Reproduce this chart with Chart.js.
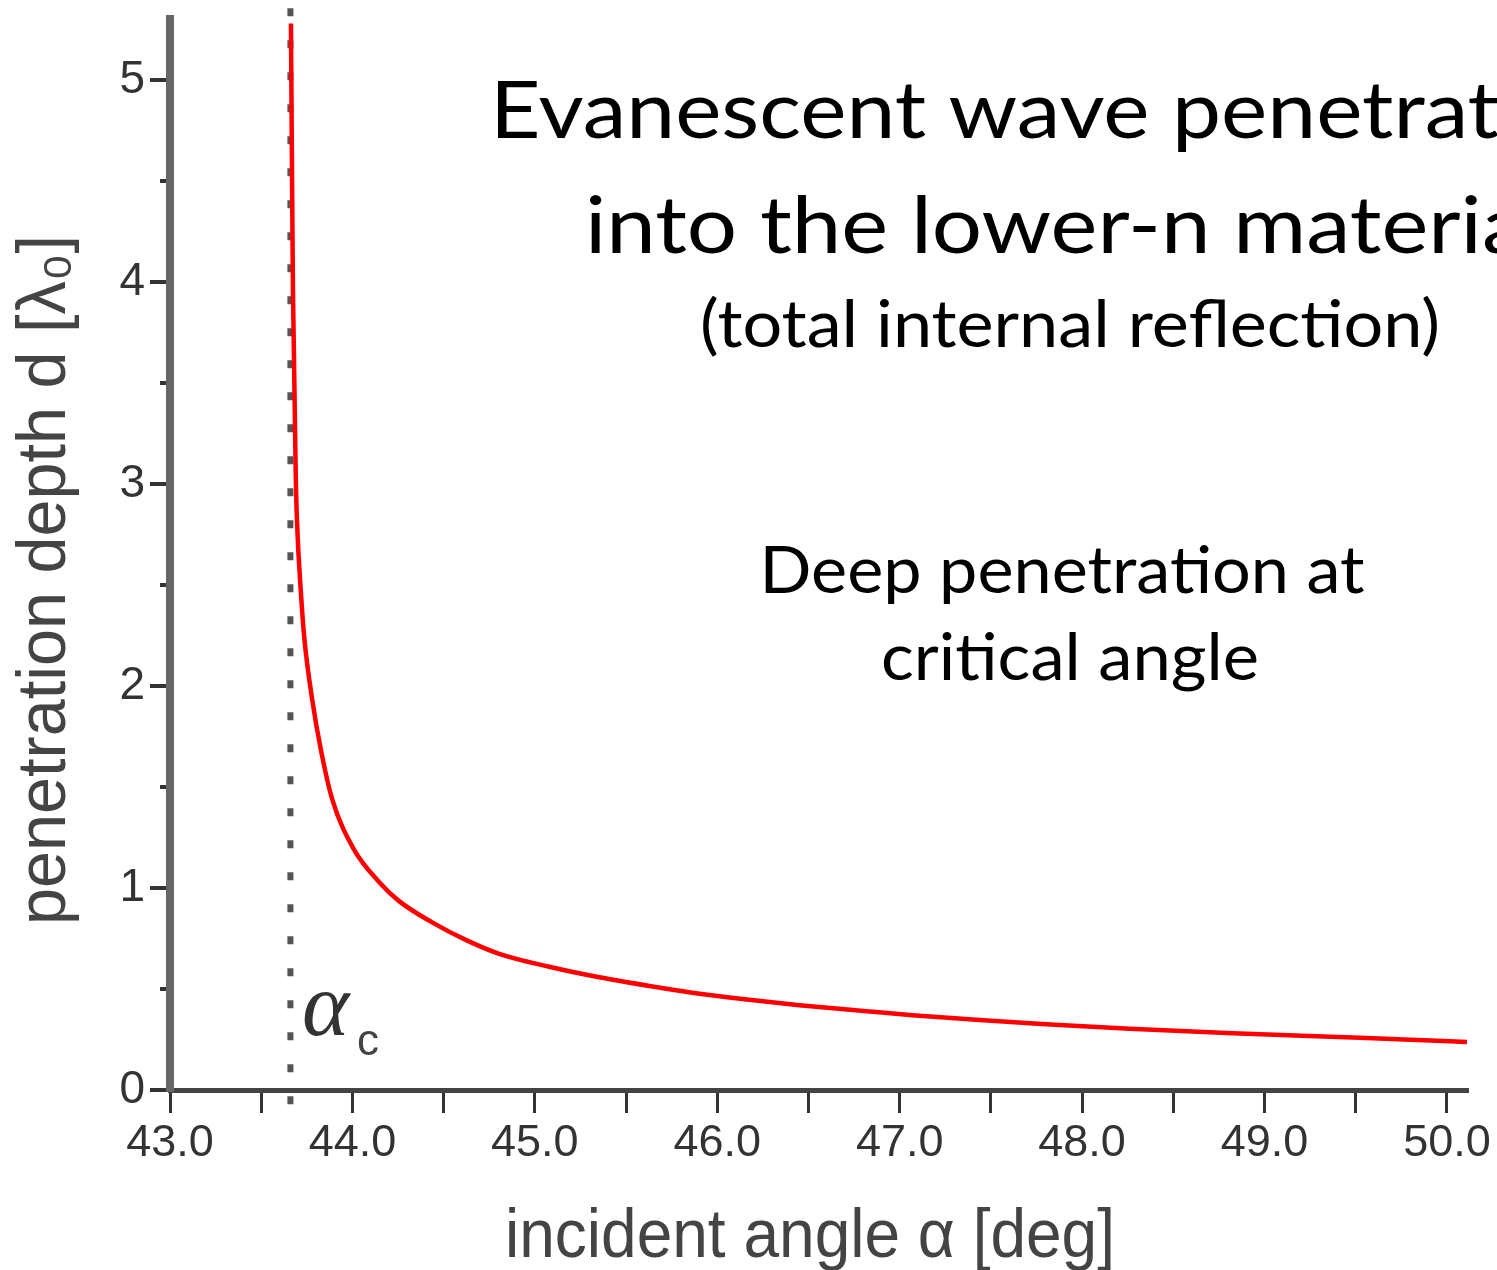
<!DOCTYPE html>
<html>
<head>
<meta charset="utf-8">
<script src="https://cdn.jsdelivr.net/npm/chart.js@4.4.0/dist/chart.umd.min.js"></script>
<style>
    html, body { margin: 0; padding: 0; background: #fff; }
    #wrap { width: 1497px; height: 1270px; }
</style>
</head>
<body>
<div id="wrap"><canvas id="depthChart" width="1497" height="1270"></canvas></div>
<script>
// incident angle (deg) and penetration depth (in wavelengths)
const angles = [43.663, 43.668, 43.674, 43.69, 43.696, 43.72, 43.737, 43.78, 43.828, 43.889,
                44.009, 44.146, 44.256, 44.437, 44.624, 44.805, 45.079, 45.353, 45.628, 45.902,
                46.176, 46.45, 46.818, 47.07, 47.438, 47.805, 48.261, 48.826, 49.561, 50.016, 50.115];
const depths = [5.28, 4.65, 3.96, 3.02, 2.82, 2.43, 2.23, 1.93, 1.68, 1.44,
                1.19, 1.03, 0.935, 0.83, 0.742, 0.674, 0.61, 0.558, 0.515, 0.477,
                0.447, 0.42, 0.39, 0.37, 0.346, 0.326, 0.303, 0.281, 0.257, 0.241, 0.238];

// critical angle marker
const criticalX = [43.66, 43.66];
const criticalY = [-0.07, 5.37];

// ticks
const xTicks = [43, 43.5, 44, 44.5, 45, 45.5, 46, 46.5, 47, 47.5, 48, 48.5, 49, 49.5, 50];
const yTicks = [0, 1, 2, 3, 4, 5];
const yMinorTicks = [0.5, 1.5, 2.5, 3.5, 4.5];

// dibuja un texto ajustado a un ancho dado
function fitText(ctx, text, x, y, font, width, align, color, angle) {
    ctx.save();
    ctx.font = font;
    ctx.fillStyle = color;
    ctx.textAlign = align;
    ctx.textBaseline = 'alphabetic';
    const w = ctx.measureText(text).width;
    ctx.translate(x, y);
    if (angle) ctx.rotate(angle);
    ctx.scale(width / w, 1);
    ctx.fillText(text, 0, 0);
    ctx.restore();
}

const overlayText = {
    id: 'overlayText',
    afterDraw(chart) {
        const ctx = chart.ctx;
        // títulos
        fitText(ctx, 'Evanescent wave penetration', 490, 138, '80px Lato', 1130, 'left', '#000');
        fitText(ctx, 'into the lower-n material', 585, 253, '80px Lato', 962, 'left', '#000');
        fitText(ctx, '(total internal reflection)', 1070, 347, '66px Lato', 740, 'center', '#000');
        fitText(ctx, 'Deep penetration at', 1062, 593, '66px Lato', 605, 'center', '#000');
        fitText(ctx, 'critical angle', 1070, 680, '66px Lato', 378, 'center', '#000');

        // ejes
        fitText(ctx, 'incident angle \u03b1 [deg]', 810, 1257, '68px "Liberation Sans"', 610, 'center', '#444');
        fitText(ctx, 'penetration depth d [\u03bb\u2080]', 65, 580, '68px "Liberation Sans"', 690, 'center', '#444', -Math.PI / 2);

        // etiqueta del ángulo crítico
        ctx.save();
        ctx.fillStyle = '#333';
        ctx.font = 'italic 90px "Liberation Serif"';
        ctx.fillText('\u03b1', 302, 1035);
        ctx.font = '44px "Liberation Sans"';
        ctx.fillStyle = '#444';
        ctx.fillText('c', 357, 1055);
        ctx.restore();
    }
};

const ctx = document.getElementById('depthChart').getContext('2d');
new Chart(ctx, {
    type: 'line',
    data: {
        datasets: [{
            label: 'penetration depth',
            data: angles.map((a, i) => ({ x: a, y: depths[i] })),
            borderColor: '#ff0000',
            borderWidth: 4.5,
            pointRadius: 0,
            cubicInterpolationMode: 'monotone',
            fill: false
        }, {
            label: 'critical angle',
            data: criticalX.map((a, i) => ({ x: a, y: criticalY[i] })),
            borderColor: '#555',
            borderWidth: 6,
            borderDash: [8, 24],
            borderCapStyle: 'butt',
            pointRadius: 0,
            clip: false,
            fill: false
        }]
    },
    options: {
        responsive: false,
        animation: false,
        devicePixelRatio: 1,
        layout: { padding: { top: 19, right: 30, left: 0, bottom: 0 } },
        plugins: {
            legend: { display: false },
            tooltip: { enabled: false }
        },
        scales: {
            x: {
                type: 'linear',
                min: 43,
                max: 50.11,
                afterBuildTicks: s => { s.ticks = xTicks.map(v => ({ value: v })); },
                afterFit: s => { s.height = 180; s.paddingLeft = 0; s.paddingRight = 0; },
                ticks: {
                    autoSkip: false,
                    maxRotation: 0,
                    padding: 4,
                    color: '#333',
                    font: { family: 'Liberation Sans', size: 45 },
                    callback: v => Number.isInteger(v) ? v.toFixed(1) : ''
                },
                grid: { drawOnChartArea: false, drawTicks: true, tickLength: 23, color: '#333', lineWidth: 3 },
                border: { display: true, color: '#444', width: 5 }
            },
            y: {
                type: 'linear',
                position: 'left',
                weight: 1,
                min: 0,
                max: 5.302,
                afterBuildTicks: s => { s.ticks = yTicks.map(v => ({ value: v })); },
                afterFit: s => { s.width = 170; s.paddingTop = 0; s.paddingBottom = 0; },
                ticks: {
                    autoSkip: false,
                    padding: 5,
                    color: '#333',
                    font: { family: 'Liberation Sans', size: 46 },
                    callback: v => String(v)
                },
                grid: { drawOnChartArea: false, drawTicks: true, tickLength: 20, color: '#333', lineWidth: 4 },
                border: { display: true, color: '#666', width: 8 }
            },
            yMinor: {
                type: 'linear',
                position: 'left',
                weight: 0,
                min: 0,
                max: 5.302,
                afterBuildTicks: s => { s.ticks = yMinorTicks.map(v => ({ value: v })); },
                afterFit: s => { s.width = 0; s.paddingTop = 0; s.paddingBottom = 0; },
                ticks: { display: false },
                grid: { drawOnChartArea: false, drawTicks: true, tickLength: 10, color: '#333', lineWidth: 4 },
                border: { display: false }
            }
        }
    },
    plugins: [overlayText]
});
</script>
</body>
</html>
